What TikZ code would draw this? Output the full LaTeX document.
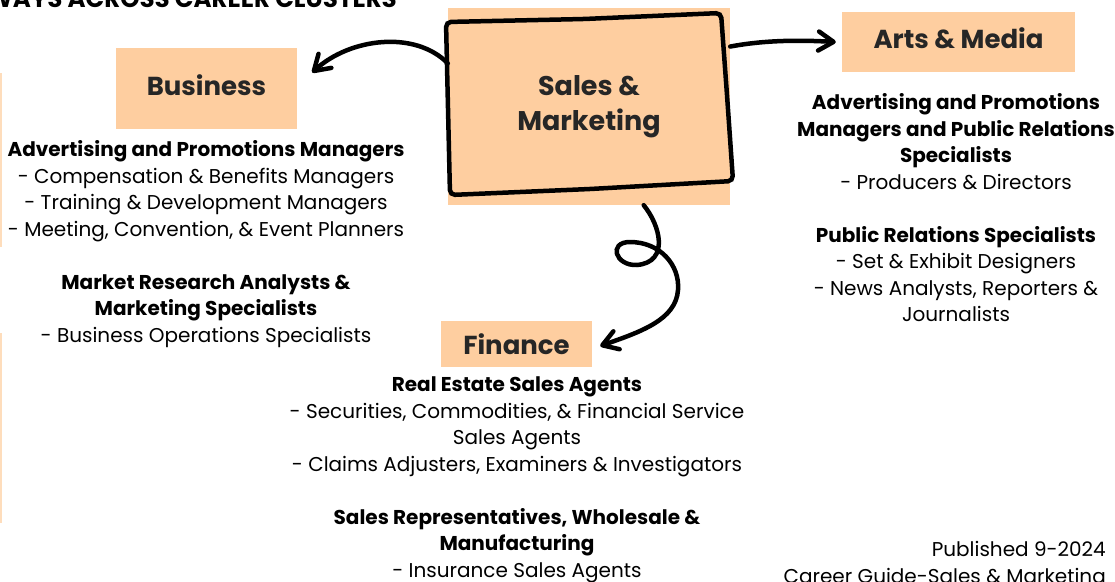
\documentclass[tikz,border=0pt]{standalone}
\usepackage{fontspec}
\setmainfont{Poppins}
\usetikzlibrary{arrows.meta, positioning, calc}

\definecolor{peach}{RGB}{254,206,160}
\definecolor{ink}{RGB}{38,38,38}

\begin{document}
\begin{tikzpicture}[x=1pt, y=-1pt,
    box/.style={fill=peach, inner sep=0pt, text=ink, align=center, font=\fontsize{26}{32}\selectfont\bfseries},
    list/.style={align=center, inner sep=0pt, anchor=north, font=\fontsize{20}{26.5}\selectfont},
    arrow/.style={-{Straight Barb[length=15pt, width=19pt, round]}, line width=4.5pt, line cap=round}
]
    \useasboundingbox (0,0) rectangle (1115,581);

    % title, cut off by the page edge
    \node[anchor=base east, inner sep=0pt, font=\fontsize{24.5}{28}\selectfont\bfseries] (title) at (397,7) {PATHWAYS ACROSS CAREER CLUSTERS};

    % edges of boxes cut off on the left
    \fill[peach!70] (-6,73) rectangle (1.5,247);
    \fill[peach!70] (-6,333) rectangle (1.5,523);

    % main cluster box
    \node[box, minimum width=282pt, minimum height=197pt, font=\fontsize{27}{35}\selectfont\bfseries] (sm) at (589,106.5) {Sales \&\\Marketing};
    \draw[line width=4.5pt, rounded corners=5pt] (446,22) -- (584,19) -- (721,13) -- (727,95) -- (733,181) -- (590,189) -- (450,195) -- cycle;

    \node[box, minimum width=181pt, minimum height=81pt] (biz) at (206.5,88.5) {Business\vphantom{p}};
    \node[box, minimum width=233pt, minimum height=60pt] (arts) at (958.5,42) {Arts \& Media\vphantom{p}};
    \node[box, minimum width=151pt, minimum height=46pt] (fin) at (516.5,344) {Finance};

    \node[list] (bizlist) at (206,140.5) {\textbf{Advertising and Promotions Managers}\\
        - Compensation \& Benefits Managers\\
        - Training \& Development Managers\\
        - Meeting, Convention, \& Event Planners\\[26.5pt]
        \textbf{Market Research Analysts \&}\\
        \textbf{Marketing Specialists}\\
        - Business Operations Specialists};

    \node[list] (artslist) at (956,93.5) {\textbf{Advertising and Promotions}\\
        \textbf{Managers and Public Relations}\\
        \textbf{Specialists}\\
        - Producers \& Directors\\[26.5pt]
        \textbf{Public Relations Specialists}\\
        - Set \& Exhibit Designers\\
        - News Analysts, Reporters \&\\
        Journalists};

    \node[list] (finlist) at (517,376.5) {\textbf{Real Estate Sales Agents}\\
        - Securities, Commodities, \& Financial Service\\
        Sales Agents\\
        - Claims Adjusters, Examiners \& Investigators\\[26.5pt]
        \textbf{Sales Representatives, Wholesale \&}\\
        \textbf{Manufacturing}\\
        - Insurance Sales Agents};

    \node[list, anchor=north east, align=right] (note) at (1106,541.5) {Published 9-2024\\Career Guide-Sales \& Marketing};

    % hand-drawn connectors
    \draw[arrow] (sm.163) .. controls (415,30) and (350,38) .. ([xshift=15pt]biz.10);
    \draw[arrow] (sm.23.5) .. controls (765,40) and (800,40) .. ([xshift=-6pt]arts.west);
    \draw[arrow] (sm.-61) .. controls (660,225) and (670,262) .. (637,265)
        .. controls (615,266) and (608,242) .. (630,242)
        .. controls (660,242) and (680,265) .. (678,290)
        .. controls (676,320) and (640,332) .. ([xshift=8pt,yshift=-2pt]fin.east);
\end{tikzpicture}
\end{document}
